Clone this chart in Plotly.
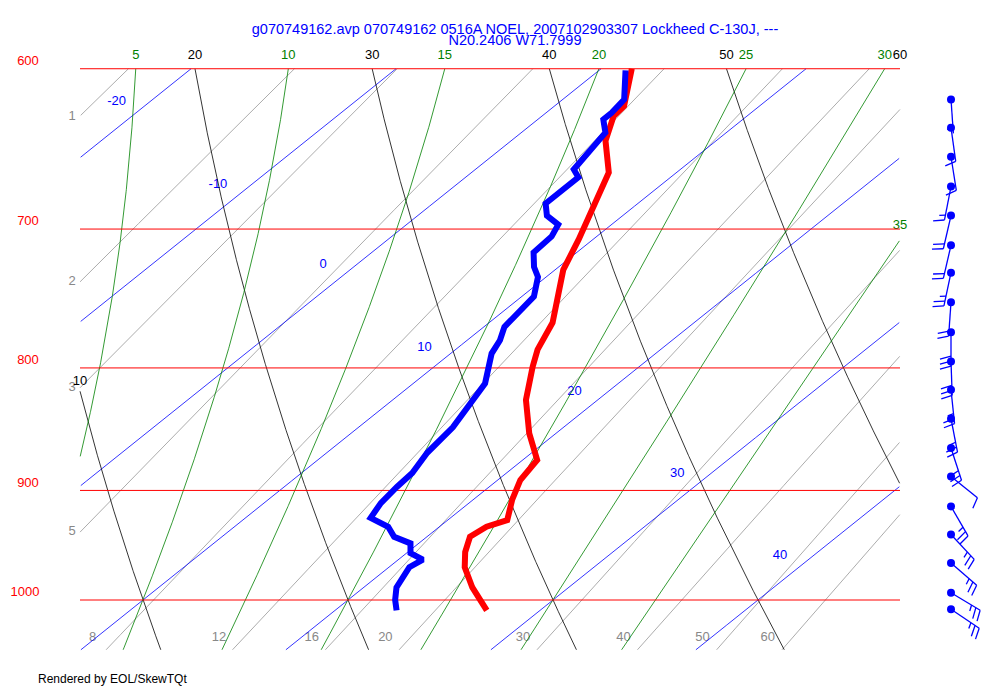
import numpy as np
import plotly.graph_objects as go

# ---------------- data ----------------
temp_p = [600, 622, 628, 643, 663, 681, 695, 707, 728, 766, 786, 799, 825, 852, 874, 891, 908, 926, 932, 941, 955, 969, 988, 1010]
temp_c = [1.5, 3.4, 3.5, 4.6, 6.7, 7.8, 8.6, 9.3, 10.4, 13.1, 14.0, 14.8, 16.5, 18.7, 20.7, 21.1, 21.9, 22.9, 22.3, 22.1, 22.8, 23.7, 25.3, 27.4]
dew_p = [601, 618, 626, 630, 638, 649, 661, 666, 674, 683, 691, 697, 705, 716, 726, 733, 747, 759, 769, 779, 789, 812, 825, 847, 868, 885, 897, 911, 924, 932, 941, 947, 956, 962, 969, 988, 1000, 1010]
dew_c = [1.3, 3.0, 3.2, 3.2, 4.1, 4.4, 4.8, 5.5, 5.5, 5.5, 6.3, 7.4, 7.8, 7.9, 8.8, 9.6, 10.6, 10.8, 11.0, 11.6, 12.0, 13.5, 13.9, 14.6, 14.9, 15.4, 15.5, 15.7, 16.1, 17.5, 18.4, 19.6, 20.2, 21.2, 21.0, 21.6, 22.3, 23.0]
wind_p = [618, 635, 653, 672, 691, 711, 730, 751, 773, 795, 817, 840, 864, 888, 914, 939, 965, 993, 1009]
wind_dir = [176, 172, 171, 191, 193, 193, 192, 184, 180, 178, 174, 169, 162, 129, 150, 137, 131, 121, 124]
wind_kt = [5, 10, 15, 15, 20, 20, 25, 20, 30, 30, 25, 25, 25, 10, 25, 25, 25, 25, 25]
isobars = [600, 700, 800, 900, 1000]
isotherms = [-40, -30, -20, -10, 0, 10, 20, 30, 40]
isotherm_labels = [-20, -10, 0, 10, 20, 30, 40]
dry_adiabats = [10, 20, 30, 40, 50, 60]
moist_adiabats = [5, 10, 15, 20, 25, 30, 35]
mix_ratios = [1, 2, 3, 5, 8, 12, 16, 20, 30, 40, 50, 60]
title_1 = "g070749162.avp 070749162 0516A NOEL, 2007102903307 Lockheed C-130J, ---"
title_2 = "N20.2406 W71.7999"

# ---------------- geometry ----------------
X0, KT, KP = 143.0, 20.5, 1298.0
PTOP, PBOT = 600.0, 1049.0
XL, XR = 80.0, 900.0
OX, OY = 8.0, 8.0   # page offset of the plot in the browser

def X(T, p):
    return X0 + KT * (np.asarray(T) - 10) + KP * np.log(1000.0 / np.asarray(p))

def P(ypx):
    return 1000.0 * np.exp((ypx - 600.0) / 1040.0)

pg = np.geomspace(PTOP, PBOT, 500)

def clip(xs, ps):
    xs = np.array(xs, float); ps = np.array(ps, float)
    m = (xs < XL) | (xs > XR) | (ps < PTOP - 0.01) | (ps > PBOT + 0.01)
    xo = [None if mm else float(v) for v, mm in zip(xs, m)]
    return xo, list(ps)

def td_from_w(w, p):
    e = w * p / (622.0 + w)
    a = np.log(e / 6.112)
    return 243.5 * a / (17.67 - a)

def moist(tw):
    Rd, cp, Lv, eps = 287.04, 1005.7, 2.501e6, 0.622
    def f(T, p):
        tc = T - 273.15
        es = 6.112 * np.exp(17.67 * tc / (tc + 243.5))
        rs = eps * es / (p - es)
        return (Rd * T + Lv * rs) / (p * (cp + Lv * Lv * rs * eps / (Rd * T * T)))
    out = {}
    for target in (PTOP, PBOT):
        T, p = tw + 273.15, 1000.0
        ps, ts = [p], [T]
        n = 400
        dp = (target - 1000.0) / n
        for _ in range(n):
            k1 = f(T, p); k2 = f(T + k1 * dp / 2, p + dp / 2)
            T += k2 * dp; p += dp
            ps.append(p); ts.append(T)
        out[target] = (ps, ts)
    ps = out[PTOP][0][::-1] + out[PBOT][0][1:]
    ts = out[PTOP][1][::-1] + out[PBOT][1][1:]
    return np.array(ps), np.array(ts) - 273.15

fig = go.Figure()

def line(xs, ps, color, width):
    fig.add_trace(go.Scatter(x=xs, y=ps, mode="lines", line=dict(color=color, width=width),
                             hoverinfo="skip", showlegend=False))

def text(x, p, s, color, size=13, anchor="middle center"):
    fig.add_trace(go.Scatter(x=[x], y=[p], mode="text", text=[s], textposition=anchor,
                             textfont=dict(color=color, size=size, family="Liberation Sans"),
                             hoverinfo="skip", showlegend=False))

# mixing ratio lines
for w in mix_ratios:
    xs, ps = clip(X(td_from_w(w, pg), pg), pg)
    line(xs, ps, "#888888", 0.7)
    xt = X(td_from_w(w, pg), pg)
    if xt[-1] < XL + 5:
        idx = np.argmin(np.abs(xt - XL))
        text(72, pg[idx], str(w), "#888888", 13)
    else:
        text(float(X(td_from_w(w, 1040.0), 1040.0)) - 22, P(638), str(w), "#888888", 13)

# isotherms
label_y = {-20: 102, -10: 185, 0: 265, 10: 348, 20: 392, 30: 474, 40: 556}
for t in isotherms:
    xs, ps = clip(X(np.full_like(pg, t), pg), pg)
    line(xs, ps, "blue", 0.8)
for t in isotherm_labels:
    p = P(label_y[t])
    text(float(X(t, p)) - 33, p, str(t), "blue", 13)

# dry adiabats
for th in dry_adiabats:
    T = (th + 273.15) * (pg / 1000.0) ** 0.2857 - 273.15
    xs, ps = clip(X(T, pg), pg)
    line(xs, ps, "black", 0.8)
    xt = X(T, pg)
    if xt[0] >= XL:
        text(float(min(xt[0], XR)), P(56), str(th), "black", 13)
    else:
        text(XL, P(382), str(th), "black", 13)

# moist adiabats
for tw in moist_adiabats:
    ps_, ts_ = moist(tw)
    xm = X(ts_, ps_)
    xs, ps = clip(xm, ps_)
    line(xs, ps, "green", 0.8)
    if xm[0] <= XR:
        text(float(xm[0]), P(56), str(tw), "green", 13)
    else:
        idx = np.argmin(np.abs(xm - XR))
        text(XR, ps_[idx] * np.exp(-14 / 1040), str(tw), "green", 13)

# isobars
for p in isobars:
    line([XL, XR], [p, p], "red", 1)
    text(28 if p < 1000 else 25, p * np.exp(-7 / 1040), str(p), "red", 13)

# profiles
line(list(X(temp_c, temp_p)), temp_p, "red", 6)
line(list(X(dew_c, dew_p)), dew_p, "blue", 6)

# wind barbs (pixel-space geometry around x=951)
bx, by = [], []
L = 34.0
for p, d, s in zip(wind_p, wind_dir, wind_kt):
    y0 = 600.0 + 1040.0 * np.log(p / 1000.0)
    x0 = 951.0
    th = np.radians(d)
    sx, sy = np.sin(th), -np.cos(th)
    x1, y1 = x0 + L * sx, y0 + L * sy
    bx += [x0, x1, None]; by += [P(y0), P(y1), None]
    fx, fy = -sy, sx
    pos = 0.0
    rem = s
    while rem >= 10:
        ax, ay = x1 - pos * sx, y1 - pos * sy
        bx += [ax, ax + 11 * fx + 3 * sx, None]; by += [P(ay), P(ay + 11 * fy + 3 * sy), None]
        pos += 5; rem -= 10
    if rem >= 5:
        if s < 10:
            pos = 6
        ax, ay = x1 - pos * sx, y1 - pos * sy
        bx += [ax, ax + 6 * fx + 1.5 * sx, None]; by += [P(ay), P(ay + 6 * fy + 1.5 * sy), None]
fig.add_trace(go.Scatter(x=bx, y=by, mode="lines", line=dict(color="blue", width=1.3),
                         hoverinfo="skip", showlegend=False))
fig.add_trace(go.Scatter(x=[951] * len(wind_p), y=wind_p, mode="markers",
                         marker=dict(color="blue", size=8), hoverinfo="skip", showlegend=False))

# titles
text(515, P(30), title_1, "blue", 14.5)
text(515, P(41), title_2, "blue", 14.5)
text(38, P(680), "Rendered by EOL/SkewTQt", "black", 12, "middle right")

fig.update_layout(
    width=1000, height=700, margin=dict(l=0, r=0, t=0, b=0),
    paper_bgcolor="white", plot_bgcolor="white",
    xaxis=dict(range=[OX, 1000 + OX], visible=False, domain=[0, 1]),
    yaxis=dict(type="log", range=[np.log10(P(700 + OY)), np.log10(P(OY))], visible=False, domain=[0, 1]),
)
fig.write_html("out.html")
